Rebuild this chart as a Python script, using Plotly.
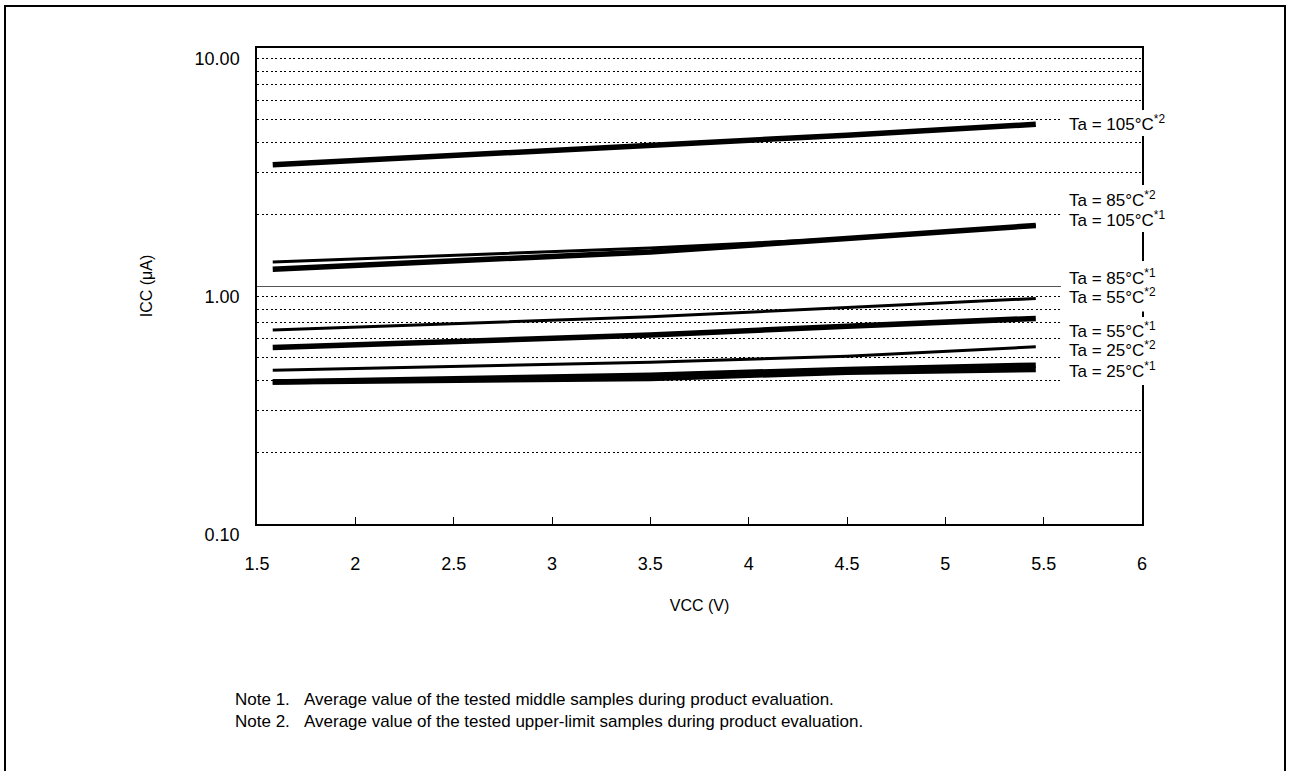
import plotly.graph_objects as go
import math

# ---- data ----
vcc = [1.58, 3.5, 4.5, 5.46]

series_names = ["Ta = 105°C*2", "Ta = 85°C*2", "Ta = 105°C*1", "Ta = 85°C*1",
                "Ta = 55°C*2", "Ta = 55°C*1", "Ta = 25°C*2", "Ta = 25°C*1"]
icc_105_2 = [3.23, 3.87, 4.30, 4.78]
icc_85_2 = [1.26, 1.446, 1.584, 1.796]
icc_105_1 = [1.177, 1.391, 1.584, 1.796]
icc_85_1 = [0.653, 0.742, 0.813, 0.886]
icc_55_2 = [0.552, 0.622, 0.678, 0.731]
icc_55_1 = [0.443, 0.478, 0.507, 0.555]
icc_25_2 = [0.395, 0.422, 0.446, 0.465]
icc_25_1 = [0.395, 0.409, 0.434, 0.446]
series_values = [icc_105_2, icc_85_2, icc_105_1, icc_85_1,
                 icc_55_2, icc_55_1, icc_25_2, icc_25_1]
series_thick = [True, False, True, False, True, False, True, True]

label_texts = ["Ta = 105°C<sup>*2</sup>", "Ta = 85°C<sup>*2</sup>", "Ta = 105°C<sup>*1</sup>",
               "Ta = 85°C<sup>*1</sup>", "Ta = 55°C<sup>*2</sup>", "Ta = 55°C<sup>*1</sup>",
               "Ta = 25°C<sup>*2</sup>", "Ta = 25°C<sup>*1</sup>"]
label_y = [4.83, 2.327, 1.918, 1.088, 0.908, 0.653, 0.542, 0.4436]

x_ticks = [1.5, 2, 2.5, 3, 3.5, 4, 4.5, 5, 5.5, 6]
x_tick_text = ["1.5", "2", "2.5", "3", "3.5", "4", "4.5", "5", "5.5", "6"]
y_ticks = [0.1, 1, 10]
y_tick_text = ["0.10", "1.00", "10.00"]
y_minor = [0.2, 0.3, 0.4, 0.5, 0.6, 0.7, 0.8, 0.9, 2, 3, 4, 5, 6, 7, 8, 9]

note_heads = ["Note 1.", "Note 2."]
note_texts = ["Average value of the tested middle samples during product evaluation.",
              "Average value of the tested upper-limit samples during product evaluation."]

FONT = "Liberation Sans, Arial, sans-serif"

# layout geometry (pixels)
W, H = 1290, 771
ML, MR, MT, MB = 257, 148, 48, 247
PW, PH = W - ML - MR, H - MT - MB


def px_x(p):
    return (p - ML) / PW


def px_y(p):
    return (H - MB - p) / PH


fig = go.Figure()
for name, vals, thick in zip(series_names, series_values, series_thick):
    fig.add_trace(go.Scatter(
        x=vcc, y=vals, mode="lines", name=name,
        line=dict(color="black", width=5.5 if thick else 3),
        showlegend=False,
    ))

# white boxes behind the curve labels (break gridlines and right frame)
for y_top, y_bot in [(110, 136), (185, 232), (261, 311.5), (317, 385)]:
    fig.add_shape(type="rect", xref="paper", yref="paper", layer="above",
                  x0=px_x(1061), x1=px_x(1178), y0=px_y(y_bot), y1=px_y(y_top),
                  line=dict(width=0), fillcolor="white")

for txt, yv in zip(label_texts, label_y):
    fig.add_annotation(
        x=5.617, xref="x", y=math.log10(yv), yref="y",
        text=txt, showarrow=False, xanchor="left", yanchor="middle",
        font=dict(family=FONT, size=17, color="black"),
    )

# footnotes (two columns, two lines each)
fig.add_annotation(x=px_x(233), xref="paper", y=px_y(710), yref="paper",
                   text="<br>".join(note_heads), align="left",
                   showarrow=False, xanchor="left", yanchor="middle",
                   font=dict(family=FONT, size=17, color="black"))
fig.add_annotation(x=px_x(301.7), xref="paper", y=px_y(710), yref="paper",
                   text="<br>".join(note_texts), align="left",
                   showarrow=False, xanchor="left", yanchor="middle",
                   font=dict(family=FONT, size=17, color="black"))

# outer page border
fig.add_shape(type="rect", xref="paper", yref="paper",
              x0=px_x(5), x1=px_x(1285), y0=px_y(820), y1=px_y(6),
              line=dict(color="black", width=2), fillcolor="rgba(0,0,0,0)")

fig.update_layout(
    width=W, height=H,
    margin=dict(l=ML, r=MR, t=MT, b=MB),
    paper_bgcolor="white", plot_bgcolor="white",
    font=dict(family=FONT, size=17, color="black"),
    xaxis=dict(
        range=[1.5, 6], tickvals=x_ticks, ticktext=x_tick_text,
        ticks="inside", ticklen=7, tickcolor="black", tickwidth=1,
        showline=True, linecolor="black", linewidth=1.5, mirror=True,
        showgrid=False, zeroline=False,
        ticklabelstandoff=23,
        tickfont=dict(family=FONT, size=18),
        title=dict(text="VCC (V)", standoff=26, font=dict(family=FONT, size=16)),
    ),
    yaxis=dict(
        type="log", range=[-1, 1], tickvals=y_ticks, ticktext=y_tick_text,
        ticks="", showline=True, linecolor="black", linewidth=1.5, mirror=True,
        showgrid=True, gridcolor="#555555", gridwidth=1, zeroline=False,
        ticklabelstandoff=12, ticklabelshift=11,
        tickfont=dict(family=FONT, size=18),
        minor=dict(tickmode="array", tickvals=y_minor, showgrid=True,
                   gridcolor="black", gridwidth=1.3, griddash="2px,2.5px", ticks=""),
        title=dict(text="ICC (μA)", standoff=38, font=dict(family=FONT, size=16)),
    ),
)

fig.write_html("out.html",
               config={"displayModeBar": False},
               post_script="document.body.style.margin='0';document.body.style.overflow='hidden';")
